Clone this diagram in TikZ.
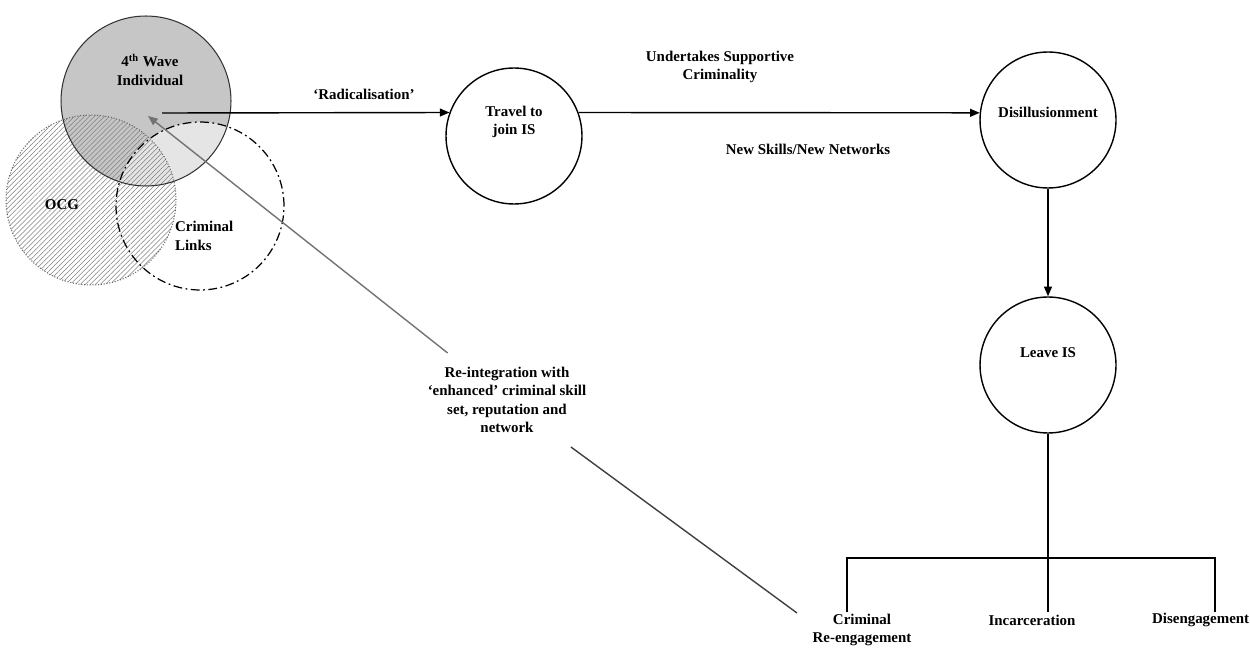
\documentclass[tikz,border=0pt]{standalone}
\usepackage{fontspec}
\setmainfont{Liberation Serif}
\usetikzlibrary{arrows.meta,patterns.meta,positioning}

\tikzset{
  stage/.style={draw, circle, line width=0.8pt, minimum size=2.72cm, inner sep=0pt},
  lbl/.style={font=\bfseries\fontsize{8.5}{10.5}\selectfont, align=center, inner sep=1pt},
  flow/.style={line width=0.8pt, -{Triangle[length=5.5pt,width=4.5pt]}},
  link/.style={line width=0.8pt},
}

\begin{document}
\begin{tikzpicture}[x=0.02cm, y=-0.02cm]
\useasboundingbox (0,0) rectangle (1250,658);

% overlapping circles
\coordinate (wave) at (146,101);
\coordinate (ocgc) at (91,200);
\coordinate (linksc) at (200,206);
\fill[gray!45] (wave) circle (1.7cm);
\fill[white, opacity=.55] (linksc) circle (1.68cm);
\fill[pattern={Lines[angle=45,distance=2pt,line width=0.3pt]}, pattern color=black!50] (ocgc) circle (1.7cm);
\draw[line width=0.6pt, black!80] (wave) circle (1.7cm);
\draw[densely dotted, line width=0.6pt, black!60] (ocgc) circle (1.7cm);
\draw[dash pattern=on 5pt off 2pt on 1pt off 2pt, line width=0.7pt] (linksc) circle (1.68cm);

\node[lbl] (wavetxt) at (150,70) {4\textsuperscript{th} Wave\\Individual};
\node[lbl] (ocg) at (62,205) {OCG};
\node[lbl, align=left, anchor=west] (links) at (173,236) {Criminal\\Links};

% stages
\node[stage] (travel) at (514,136) {};
\node[stage] (disil) at (1048,120) {};
\node[stage] (leave) at (1048,365) {};
\node[lbl] (traveltxt) at (514,122) {Travel to\\join IS};
\node[lbl] (disiltxt) at (1048,112) {Disillusionment};
\node[lbl] (leavetxt) at (1048,353) {Leave IS};

\coordinate (wavestart) at (162,113);
\draw[flow] (wavestart) -- (travel.160);
\draw[flow] (travel.20) -- (disil.174);
\draw[flow] (disil) -- (leave);

\node[lbl] (radical) at (364,94) {`Radicalisation'};
\node[lbl] (support) at (720,67) {Undertakes Supportive\\Criminality};
\node[lbl] (skills) at (808,149) {New Skills/New Networks};

% outcomes
\coordinate (fork) at (1048,558);
\coordinate (dropA) at (847,612);
\coordinate (dropB) at (1048,612);
\coordinate (dropC) at (1215,612);
\draw[link] (leave) -- (fork);
\draw[link] (dropA) |- (fork) -| (dropC);
\draw[link] (fork) -- (dropB);

\node[lbl] (crimre) at (862,630) {Criminal\\Re-engagement};
\node[lbl] (incarc) at (1032,620) {Incarceration};
\node[lbl, anchor=west] (diseng) at (1150,620) {Disengagement};

% way back
\coordinate (reend) at (797,613);
\coordinate (waveend) at (148,116);
\node[lbl, outer sep=7pt] (reint) at (507,400) {Re-integration with\\`enhanced' criminal skill\\set, reputation and\\network};
\draw[link, black!75] (reend) -- (reint);
\draw[flow, black!55] (reint) -- (waveend);
\end{tikzpicture}
\end{document}
